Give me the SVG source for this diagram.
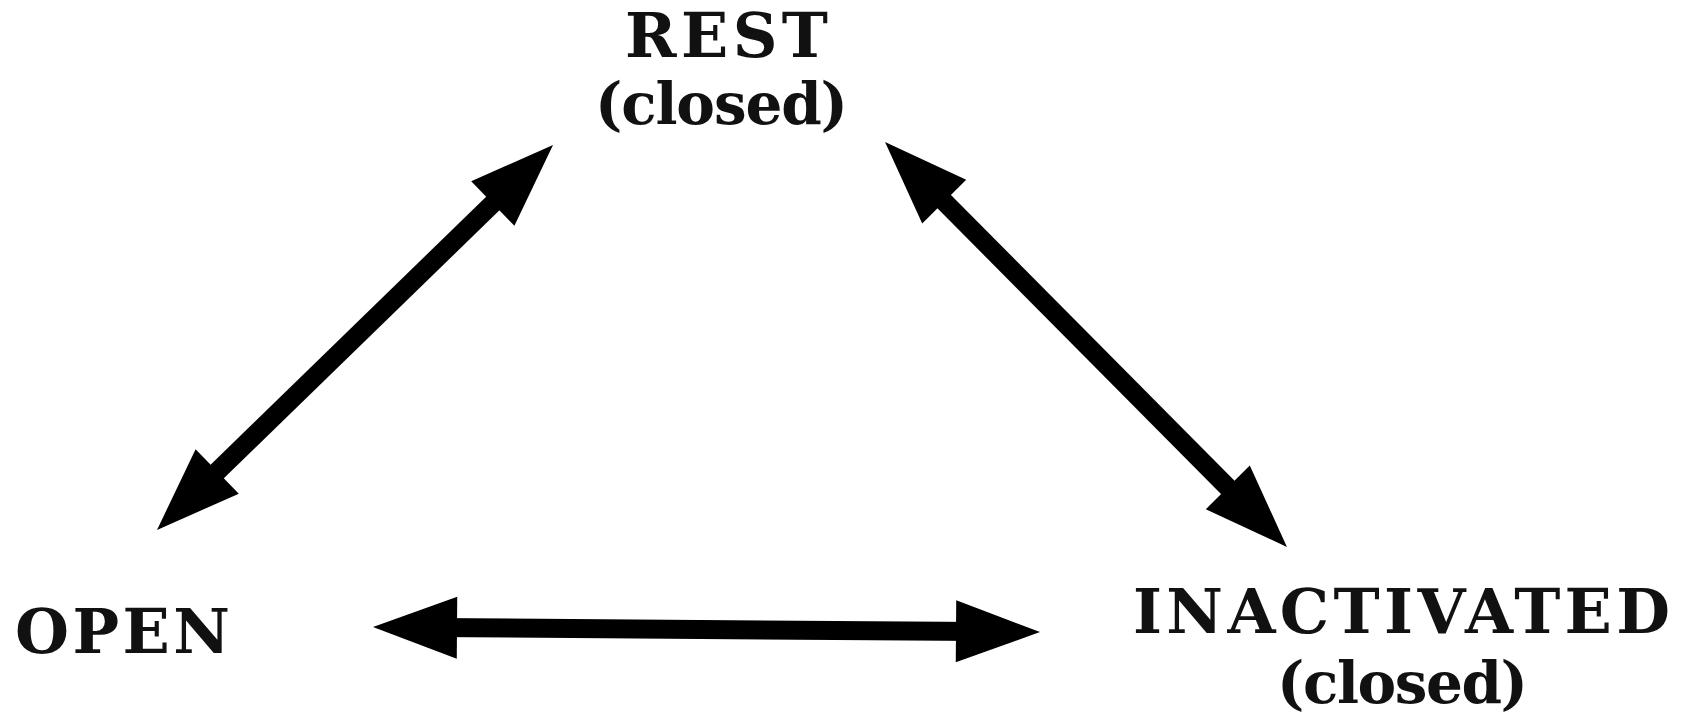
<svg xmlns="http://www.w3.org/2000/svg" width="1691" height="715" viewBox="0 0 1691 715">
  <style>
    .lbl { font-family: "DejaVu Serif", "Liberation Serif", serif; font-weight: bold; font-size: 62px; fill: #111; }
    .sub { font-size: 58px; }
    .conn { stroke: #000; stroke-width: 19; fill: none; }
  </style>
  <defs>
    <marker id="ah" markerUnits="userSpaceOnUse" markerWidth="90" markerHeight="66" refX="24" refY="31" orient="auto-start-reverse" overflow="visible">
      <path d="M0,0 L84,31 L0,62 z" fill="#000"/>
    </marker>
  </defs>
  <rect width="1691" height="715" fill="#fff"/>
  <g id="connectors">
    <line class="conn" x1="200" y1="488.2" x2="510" y2="186.8" marker-start="url(#ah)" marker-end="url(#ah)"/>
    <line class="conn" x1="927.3" y1="184.6" x2="1244.7" y2="504.4" marker-start="url(#ah)" marker-end="url(#ah)"/>
    <line class="conn" x1="433" y1="627.45" x2="980" y2="631.55" marker-start="url(#ah)" marker-end="url(#ah)"/>
  </g>
  <g id="rest">
    <text class="lbl" x="625" y="57" textLength="203" lengthAdjust="spacing">REST</text>
    <text class="lbl sub" x="595" y="124" textLength="253" lengthAdjust="spacing">(closed)</text>
  </g>
  <g id="open">
    <text class="lbl" x="15" y="653" textLength="215" lengthAdjust="spacing">OPEN</text>
  </g>
  <g id="inactivated">
    <text class="lbl" x="1133" y="633" textLength="537" lengthAdjust="spacing">INACTIVATED</text>
    <text class="lbl sub" x="1277" y="703" textLength="251" lengthAdjust="spacing">(closed)</text>
  </g>
</svg>
